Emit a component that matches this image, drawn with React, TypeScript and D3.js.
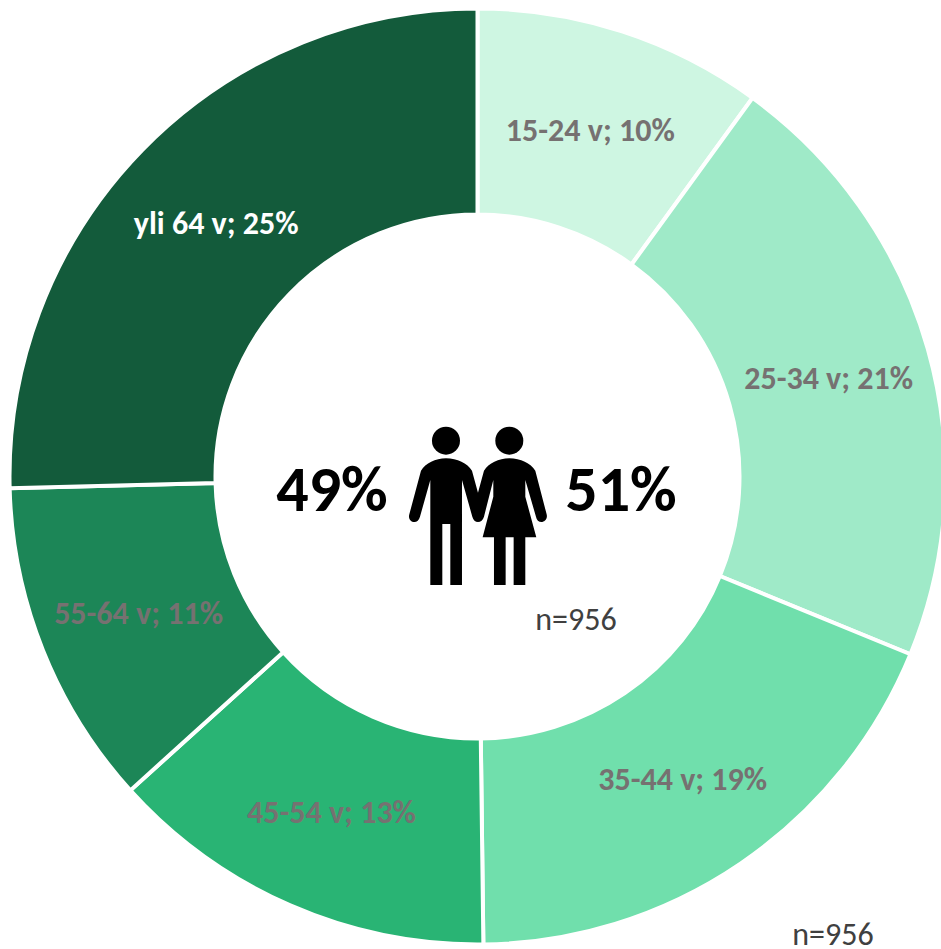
import React from "react";
import * as d3 from "d3";

const ageGroups = ["15-24 v", "25-34 v", "35-44 v", "45-54 v", "55-64 v", "yli 64 v"];
const shares = [10.0, 21.2, 18.6, 13.5, 11.3, 25.4];
const shareLabels = ["10%", "21%", "19%", "13%", "11%", "25%"];
const sliceColors = ["#CEF6E2", "#9FEAC8", "#70DFAC", "#29B474", "#1C8657", "#135B3B"];
const labelColors = ["#767171", "#767171", "#767171", "#767171", "#767171", "#FFFFFF"];
const genderLabels = ["49%", "51%"];
const sampleLabel = "n=956";

const WIDTH = 941;
const HEIGHT = 949;
const CX = 477.5;
const CY = 476.5;
const FONT = "Carlito, Lato, 'Open Sans', sans-serif";

const COUPLE =
  "M558 175 C592 175 622 190 636 212 L654 278 L672 212 C686 190 716 175 748 175 C782 175 812 190 826 212 L860 343 C864 358 852 366 845 366 C836 366 830 360 828 350 L796 240 L796 290 L829 412 L796 412 L796 555 L761 555 L761 412 L737 412 L737 555 L702 555 L702 412 L668 412 L700 290 L700 240 L672 350 C669 360 662 366 654 366 C646 366 640 360 637 350 L606 240 L606 555 L571 555 L571 372 L547 372 L547 555 L511 555 L511 240 L480 350 C477 360 471 366 463 366 C453 366 444 356 448 343 L483 212 C497 190 526 175 558 175 Z";

export default function App() {
  const pie = d3.pie<number>().sort(null).value((d) => d);
  const arc = d3.arc<d3.PieArcDatum<number>>().innerRadius(262).outerRadius(468);
  const arcs = pie(shares);

  return (
    <svg
      width={WIDTH}
      height={HEIGHT}
      viewBox={`0 0 ${WIDTH} ${HEIGHT}`}
      style={{ position: "absolute", left: 0, top: 0, display: "block", background: "#fff" }}
      fontFamily={FONT}
    >
      <g transform={`translate(${CX},${CY})`}>
        {arcs.map((a, i) => (
          <path key={ageGroups[i]} d={arc(a) ?? ""} fill={sliceColors[i]} stroke="#fff" strokeWidth={4} />
        ))}
        {arcs.map((a, i) => {
          const [x, y] = arc.centroid(a);
          return (
            <text
              key={ageGroups[i]}
              x={x}
              y={y}
              dy="0.37em"
              textAnchor="middle"
              fontSize={32}
              fontWeight={700}
              fill={labelColors[i]}
            >
              {`${ageGroups[i]}; ${shareLabels[i]}`}
            </text>
          );
        })}
      </g>
      <g transform="translate(260,400) scale(0.3333)" fill="#000">
        <circle cx={558} cy={122} r={42} />
        <circle cx={748} cy={122} r={42} />
        <path d={COUPLE} />
      </g>
      <text x={332} y={511} textAnchor="middle" fontSize={64} fontWeight={700} fill="#000">
        {genderLabels[0]}
      </text>
      <text x={621} y={511} textAnchor="middle" fontSize={64} fontWeight={700} fill="#000">
        {genderLabels[1]}
      </text>
      <text x={576} y={630} textAnchor="middle" fontSize={32} fill="#404040">
        {sampleLabel}
      </text>
      <text x={833} y={945} textAnchor="middle" fontSize={32} fill="#404040">
        {sampleLabel}
      </text>
    </svg>
  );
}
